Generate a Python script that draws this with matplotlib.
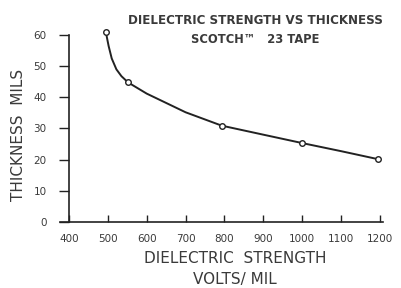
import matplotlib
matplotlib.use("Agg")
import matplotlib.pyplot as plt

# measured points (volts/mil vs thickness mils)
strength = [495, 552, 793, 1000, 1196]
thickness = [61, 44.8, 30.9, 25.3, 20.1]

# curve
curve_x = [495, 498, 502, 510, 522, 535, 552, 600, 650, 700, 793, 900, 1000, 1100, 1196]
curve_y = [61, 59, 56.5, 52.5, 49, 46.8, 44.8, 41.2, 38.2, 35.2, 30.9, 28, 25.3, 22.7, 20.1]

xticks = [400, 500, 600, 700, 800, 900, 1000, 1100, 1200]
yticks = [0, 10, 20, 30, 40, 50, 60]

ink = "#222222"
txt = "#3a3a3a"
fam = "DejaVu Sans"

fig = plt.figure(figsize=(4.02, 2.88), dpi=100)
ax = fig.add_axes([0.1716, 0.230, 0.7734, 0.648])

ax.plot(curve_x, curve_y, color=ink, lw=1.4, zorder=2, clip_on=False)
ax.plot(strength, thickness, 'o', ms=4, mfc="white", mec=ink, mew=1.0, zorder=3,
        clip_on=False)

ax.set_xlim(400, 1200)
ax.set_ylim(0, 60)
for s in ["top", "right"]:
    ax.spines[s].set_visible(False)
ax.spines["left"].set_color(ink)
ax.spines["bottom"].set_color(ink)
ax.spines["left"].set_linewidth(1.2)
ax.spines["bottom"].set_linewidth(1.2)
ax.spines["bottom"].set_bounds(378, 1207)

ax.set_xticks(xticks)
ax.set_yticks(yticks)
ax.set_xticklabels([str(v) for v in xticks], family=fam, fontsize=7.5, color=txt)
ax.set_yticklabels([str(v) for v in yticks], family=fam, fontsize=7.5, color=txt)
ax.tick_params(axis="x", direction="in", length=5, width=1, color=ink, pad=9)
ax.tick_params(axis="y", direction="out", length=7, width=1, color=ink, pad=9)

fig.text(0.635, 0.93, "DIELECTRIC STRENGTH VS THICKNESS", ha="center", va="center",
         family=fam, fontsize=8.6, fontweight="bold", color=txt)
fig.text(0.635, 0.862, "SCOTCH\u2122   23 TAPE", ha="center", va="center",
         family=fam, fontsize=8.3, fontweight="bold", color=txt)

fig.text(0.585, 0.102, "DIELECTRIC  STRENGTH", ha="center", va="center",
         family=fam, fontsize=11, color=txt)
fig.text(0.585, 0.028, "VOLTS/ MIL", ha="center", va="center",
         family=fam, fontsize=11, color=txt)
fig.text(0.047, 0.53, "THICKNESS  MILS", ha="center", va="center", rotation=90,
         family=fam, fontsize=11, color=txt)

fig.savefig("out.png", dpi=100)
